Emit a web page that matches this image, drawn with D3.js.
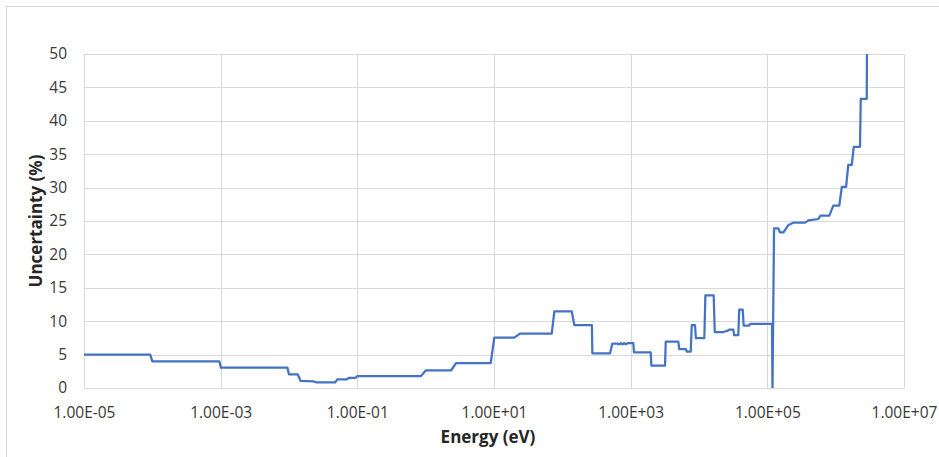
<!DOCTYPE html>
<html>
<head>
<meta charset="utf-8">
<script src="https://cdn.jsdelivr.net/npm/d3@7"></script>
<style>
  html, body { margin: 0; padding: 0; background: #fff; }
  svg { display: block; font-family: "Open Sans", sans-serif; }
</style>
</head>
<body>
<svg id="chart" width="939" height="457"></svg>
<script>
// Neutron energy (eV) and relative uncertainty (%) — step profile drawn as a polyline
const energy = [
  1e-5, 9.3e-5, 1.0e-4, 9.55e-4, 1.01e-3, 9.44e-3, 1.0e-2, 1.34e-2, 1.48e-2, 2.27e-2, 2.48e-2,
  4.76e-2, 5.09e-2, 7.0e-2, 7.48e-2, 9.33e-2, 0.1, 0.855, 1.0, 2.35, 2.78,
  8.95, 10.1, 19.8, 24.0, 70.0, 76.4, 137, 150, 271, 275,
  499, 539, 640, 680, 720, 760, 800, 850, 900, 1093, 1120,
  1965, 2010, 3183, 3260, 4980, 5150, 6450, 6610, 7570, 7830,
  8750, 9000, 11970, 12400, 16400, 17000, 22700, 26000, 28000, 31800,
  32600, 37600, 38800, 43600, 45000, 54500, 56000, 117000, 119000, 125400,
  145000, 153000, 172000, 203000, 240000, 356000, 400000, 557000, 600000, 807000,
  924000, 1.13e6, 1.23e6, 1.42e6, 1.53e6, 1.72e6, 1.84e6, 2.27e6, 2.33e6, 2.85e6,
  2.9e6
];
const uncertainty = [
  5.0, 5.0, 4.0, 4.0, 3.05, 3.05, 2.05, 2.05, 1.05, 1.0, 0.85,
  0.85, 1.3, 1.3, 1.5, 1.5, 1.78, 1.78, 2.62, 2.62, 3.72,
  3.72, 7.53, 7.53, 8.15, 8.15, 11.48, 11.48, 9.4, 9.4, 5.2,
  5.2, 6.65, 6.65, 6.55, 6.7, 6.55, 6.7, 6.55, 6.7, 6.7, 5.32,
  5.32, 3.35, 3.35, 6.95, 6.95, 5.82, 5.82, 5.45, 5.45, 9.4,
  9.4, 7.45, 7.45, 13.88, 13.88, 8.38, 8.38, 8.55, 8.75, 8.75,
  7.92, 7.92, 11.75, 11.75, 9.35, 9.35, 9.6, 9.6, 0, 23.9,
  23.9, 23.3, 23.3, 24.4, 24.75, 24.75, 25.1, 25.3, 25.8, 25.8,
  27.3, 27.3, 30.1, 30.1, 33.4, 33.4, 36.1, 36.1, 43.3, 43.3,
  60
];

const xTicks = [1e-5, 1e-3, 1e-1, 1e1, 1e3, 1e5, 1e7];
const yTicks = [0, 5, 10, 15, 20, 25, 30, 35, 40, 45, 50];
const xTitle = "Energy (eV)";
const yTitle = "Uncertainty (%)";

const svg = d3.select("#chart");
const W = 939, H = 457;
const plot = { left: 84, right: 904, top: 54, bottom: 388 };

svg.append("rect").attr("width", W).attr("height", H).attr("fill", "#fff");
// chart frame
svg.append("rect")
  .attr("x", 6.5).attr("y", 6.5).attr("width", W).attr("height", H)
  .attr("fill", "none").attr("stroke", "#d9d9d9");

const x = d3.scaleLog().domain([1e-5, 1e7]).range([plot.left, plot.right]);
const y = d3.scaleLinear().domain([0, 50]).range([plot.bottom, plot.top]);

// Scientific notation like 1.00E-05
const sci = v => {
  const e = Math.round(Math.log10(v));
  const mant = (v / Math.pow(10, e)).toFixed(2);
  const sign = e < 0 ? "-" : "+";
  return mant + "E" + sign + String(Math.abs(e)).padStart(2, "0");
};

// gridlines
const grid = svg.append("g").attr("stroke", "#d9d9d9").attr("stroke-width", 1);
grid.selectAll("line.h").data(yTicks).join("line")
  .attr("x1", plot.left).attr("x2", plot.right)
  .attr("y1", d => Math.round(y(d)) + 0.5).attr("y2", d => Math.round(y(d)) + 0.5);
grid.selectAll("line.v").data(xTicks).join("line")
  .attr("y1", plot.top).attr("y2", plot.bottom)
  .attr("x1", d => Math.round(x(d)) + 0.5).attr("x2", d => Math.round(x(d)) + 0.5);

// axes (labels only)
const xAxis = svg.append("g")
  .attr("transform", `translate(0,${plot.bottom})`)
  .call(d3.axisBottom(x).tickValues(xTicks).tickFormat(sci).tickSize(0).tickPadding(18.5));
const yAxis = svg.append("g")
  .attr("transform", `translate(${plot.left},0)`)
  .call(d3.axisLeft(y).tickValues(yTicks).tickFormat(d3.format("d")).tickSize(0).tickPadding(17));
[xAxis, yAxis].forEach(a => {
  a.select(".domain").remove();
  a.selectAll("text")
    .attr("font-family", "'Open Sans', sans-serif")
    .attr("font-size", 15.5)
    .attr("fill", "#383838");
});

// data line
svg.append("clipPath").attr("id", "plotClip")
  .append("rect")
  .attr("x", plot.left).attr("y", plot.top)
  .attr("width", plot.right - plot.left).attr("height", plot.bottom - plot.top);

const pts = energy.map((e, i) => [e, uncertainty[i]]);
const line = d3.line().x(d => x(d[0])).y(d => y(d[1]));
svg.append("path")
  .datum(pts)
  .attr("clip-path", "url(#plotClip)")
  .attr("d", line)
  .attr("fill", "none")
  .attr("stroke", "#4472C4")
  .attr("stroke-width", 2.25)
  .attr("stroke-linejoin", "round");

// axis titles
svg.append("text")
  .attr("x", 488).attr("y", 443)
  .attr("text-anchor", "middle")
  .attr("font-size", 17).attr("font-weight", 700)
  .attr("fill", "#262626")
  .text(xTitle);
svg.append("text")
  .attr("transform", "translate(41.5,221) rotate(-90)")
  .attr("text-anchor", "middle")
  .attr("font-size", 17).attr("font-weight", 700)
  .attr("fill", "#262626")
  .text(yTitle);
</script>
</body>
</html>
